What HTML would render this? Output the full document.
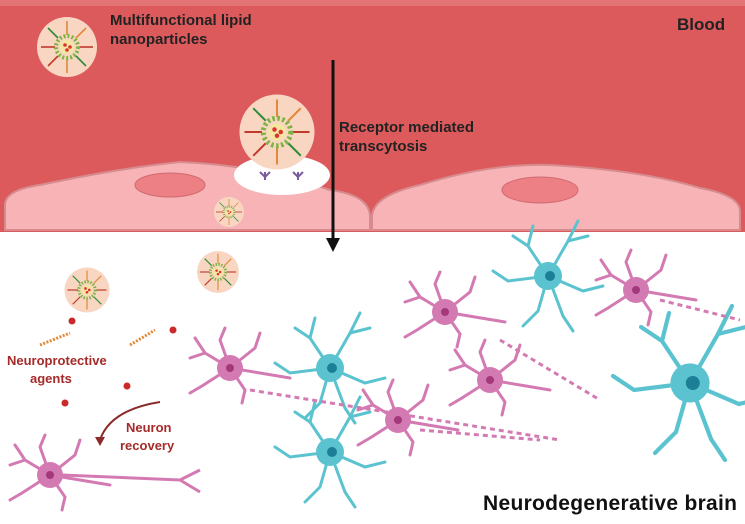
<!DOCTYPE html>
<html><head><meta charset="utf-8"><style>
body{margin:0;width:745px;height:524px;overflow:hidden;background:#fff;font-family:"Liberation Sans",sans-serif}
svg{display:block}
text{font-family:"Liberation Sans",sans-serif;font-weight:bold}
</style></head><body>
<svg width="745" height="524" viewBox="0 0 745 524">
<defs>
<g id="np">
<circle r="30" fill="#f8d6c2"/>
<g stroke-width="1.6">
<line x1="0" y1="-12" x2="0" y2="-26" stroke="#e0893a"/>
<line x1="0" y1="12" x2="0" y2="26" stroke="#e0893a"/>
<line x1="-12" y1="0" x2="-26" y2="0" stroke="#c0392b"/>
<line x1="12" y1="0" x2="26" y2="0" stroke="#c0392b"/>
<line x1="9" y1="9" x2="19" y2="19" stroke="#2e8b3a"/>
<line x1="-9" y1="-9" x2="-19" y2="-19" stroke="#2e8b3a"/>
<line x1="9" y1="-9" x2="19" y2="-19" stroke="#e0893a"/>
<line x1="-9" y1="9" x2="-19" y2="19" stroke="#c0392b"/>
</g>
<circle r="11" fill="none" stroke="#7cb342" stroke-width="4" stroke-dasharray="2 2"/>
<circle r="7" fill="#f3e6a0"/>
<circle cx="-2" cy="-2" r="1.8" fill="#d33"/><circle cx="3" cy="0" r="1.8" fill="#d33"/><circle cx="0" cy="3" r="1.8" fill="#d33"/>
</g>
<g id="pn" stroke="#d47ab3" fill="none" stroke-width="3" stroke-linecap="round">
<path d="M0 0 L-25 -15 L-35 -30 M-25 -15 L-40 -10 M0 0 L-10 -28 L-5 -40 M0 0 L25 -20 L30 -35 M0 0 L-28 18 L-40 25 M0 0 L15 22 L12 35 M0 0 L60 10"/>
<circle r="13" fill="#d47ab3" stroke="none"/>
<circle r="4" fill="#a3387a" stroke="none"/>
</g>
<g id="cn" stroke="#5bc3d0" fill="none" stroke-width="3" stroke-linecap="round">
<path d="M0 0 L-20 -30 L-35 -40 M-20 -30 L-15 -50 M0 0 L20 -35 L30 -55 M20 -35 L40 -40 M0 0 L-40 5 L-55 -5 M0 0 L35 15 L55 10 M0 0 L-10 35 L-25 50 M0 0 L15 40 L25 55"/>
<circle r="14" fill="#5bc3d0" stroke="none"/>
<circle cx="2" r="5" fill="#1d7f95" stroke="none"/>
</g>
</defs>
<rect x="0" y="0" width="745" height="232" fill="#dc5a5c"/>
<rect x="0" y="0" width="745" height="6" fill="#e27476"/>
<path d="M5 205 Q5 190 40 185 Q120 168 180 162 Q260 165 330 190 Q368 195 370 215 L370 230 L5 230 Z" fill="#f7b3b5" stroke="#d78b8e" stroke-width="2"/>
<path d="M372 215 Q375 195 420 185 Q490 163 550 165 Q640 170 700 188 Q738 195 740 210 L740 230 L372 230 Z" fill="#f7b3b5" stroke="#d78b8e" stroke-width="2"/>
<ellipse cx="170" cy="185" rx="35" ry="12" fill="#ec8085" stroke="#d06a70"/>
<ellipse cx="540" cy="190" rx="38" ry="13" fill="#ec8085" stroke="#d06a70"/>
<ellipse cx="282" cy="175" rx="48" ry="20" fill="#fff"/>
<path d="M265 180 v-8 M260 172 l5 5 5 -5 M298 180 v-8 M293 172 l5 5 5 -5" stroke="#7a5a9a" stroke-width="2" fill="none"/>
<use href="#np" transform="translate(67,47)"/>
<use href="#np" transform="translate(277,132) scale(1.25)"/>
<use href="#np" transform="translate(229,212) scale(0.5)"/>
<use href="#np" transform="translate(87,290) scale(0.75)"/>
<use href="#np" transform="translate(218,272) scale(0.7)"/>
<line x1="333" y1="60" x2="333" y2="240" stroke="#111" stroke-width="3"/>
<polygon points="326,238 340,238 333,252" fill="#111"/>
<text x="110" y="25" font-size="15" fill="#222">Multifunctional lipid</text>
<text x="110" y="44" font-size="15" fill="#222">nanoparticles</text>
<text x="677" y="30" font-size="17" fill="#222">Blood</text>
<text x="339" y="132" font-size="15" fill="#222">Receptor mediated</text>
<text x="339" y="151" font-size="15" fill="#222">transcytosis</text>
<g fill="#cc2a2a"><circle cx="72" cy="321" r="3.5"/><circle cx="173" cy="330" r="3.5"/><circle cx="127" cy="386" r="3.5"/><circle cx="65" cy="403" r="3.5"/></g>
<path d="M40 345 l30 -12 M130 345 l25 -15" stroke="#e0893a" stroke-width="3" stroke-dasharray="2 1.5"/>
<text x="7" y="365" font-size="13" fill="#a52a2a">Neuroprotective</text>
<text x="30" y="383" font-size="13" fill="#a52a2a">agents</text>
<text x="126" y="432" font-size="13" fill="#a52a2a">Neuron</text>
<text x="120" y="450" font-size="13" fill="#a52a2a">recovery</text>
<path d="M160 402 Q110 410 100 440" stroke="#8b2a2a" stroke-width="2" fill="none"/>
<polygon points="95,437 105,437 100,446" fill="#8b2a2a"/>
<use href="#cn" transform="translate(330,368)"/>
<use href="#cn" transform="translate(330,452)"/>
<use href="#cn" transform="translate(548,276)"/>
<use href="#cn" transform="translate(690,383) scale(1.4)"/>
<use href="#pn" transform="translate(230,368)"/>
<use href="#pn" transform="translate(398,420)"/>
<use href="#pn" transform="translate(445,312)"/>
<use href="#pn" transform="translate(490,380)"/>
<use href="#pn" transform="translate(636,290)"/>
<use href="#pn" transform="translate(50,475)"/>
<path d="M62 475 L180 480 L200 470 M180 480 L200 492" stroke="#d47ab3" stroke-width="3" fill="none"/>
<path d="M250 390 L560 440 M420 430 L540 440 M500 340 L600 400 M660 300 L740 320" stroke="#d47ab3" stroke-width="3" stroke-dasharray="5 4" fill="none"/>
<text x="483" y="510" font-size="21" fill="#111" textLength="254">Neurodegenerative brain</text>
</svg>
</body></html>
